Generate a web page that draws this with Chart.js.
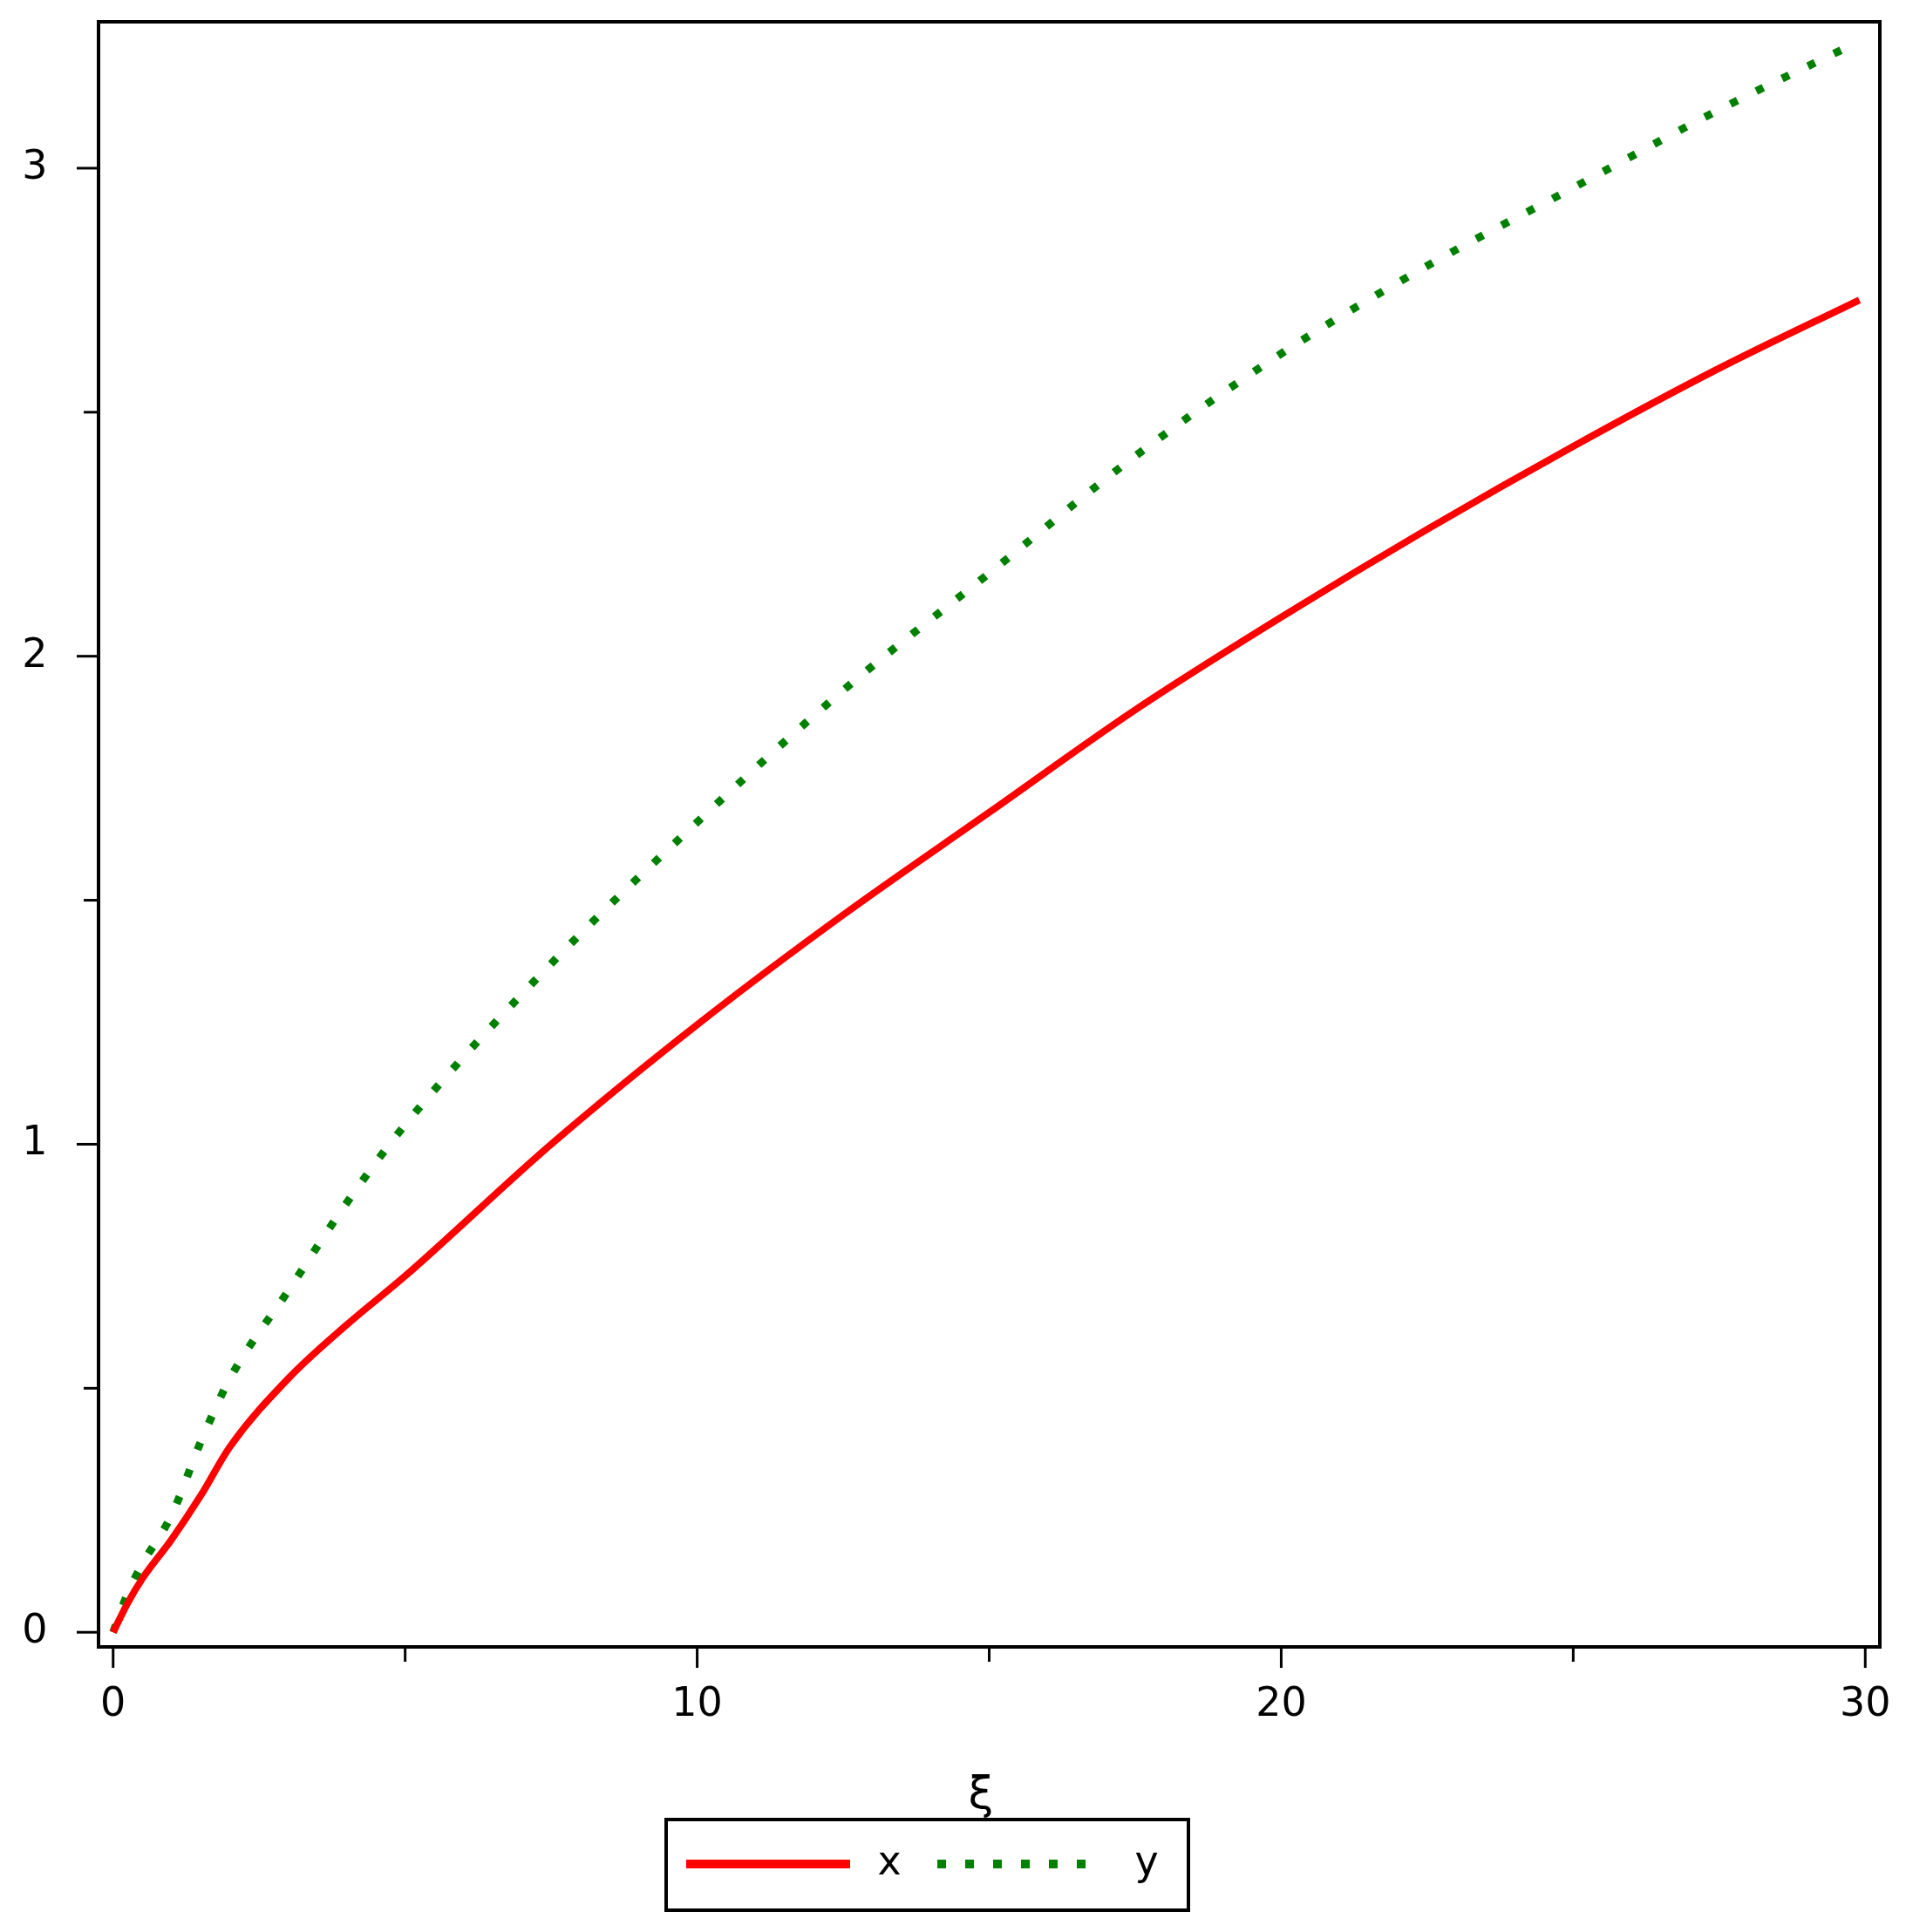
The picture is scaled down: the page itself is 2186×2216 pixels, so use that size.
<!DOCTYPE html>
<html><head><meta charset="utf-8">
<script src="https://cdn.jsdelivr.net/npm/chart.js@4/dist/chart.umd.min.js"></script>
<style>html,body{margin:0;padding:0;background:#fff}canvas{display:block}</style>
</head><body>
<canvas id="c" width="2186" height="2216"></canvas>
<script>
const xi = [0,0.25,0.5,1,1.5,2,3,4,5,7.5,10,12.5,15,17.5,20,22.5,25,27.5,29.9];
const xVals = [0,0.06,0.11,0.19,0.28,0.38,0.52,0.63,0.73,1.0,1.245,1.47,1.68,1.89,2.08,2.26,2.43,2.59,2.73];
const yVals = [0,0.08,0.14,0.24,0.39,0.52,0.70,0.88,1.04,1.37,1.66,1.93,2.17,2.41,2.62,2.80,2.96,3.12,3.26];
const xMajor = [0,10,20,30], xMinor = [5,15,25];
const yMajor = [0,1,2,3], yMinor = [0.5,1.5,2.5];
const FONT = '46px "DejaVu Sans"';

const deco = {
  id:'deco',
  afterDraw(ch){
    const c=ch.ctx, a=ch.chartArea, sx=ch.scales.x, sy=ch.scales.y;
    c.save();
    c.strokeStyle='#000'; c.lineWidth=4;
    c.strokeRect(a.left,a.top,a.right-a.left,a.bottom-a.top);
    c.lineWidth=3; c.fillStyle='#000'; c.font=FONT;
    c.textAlign='center'; c.textBaseline='top';
    xMajor.forEach(v=>{const p=sx.getPixelForValue(v);c.beginPath();c.moveTo(p,a.bottom);c.lineTo(p,a.bottom+24);c.stroke();c.fillText(String(v),p,a.bottom+44);});
    xMinor.forEach(v=>{const p=sx.getPixelForValue(v);c.beginPath();c.moveTo(p,a.bottom);c.lineTo(p,a.bottom+17);c.stroke();});
    c.textAlign='center'; c.textBaseline='middle';
    yMajor.forEach(v=>{const p=sy.getPixelForValue(v);c.beginPath();c.moveTo(a.left,p);c.lineTo(a.left-25,p);c.stroke();c.fillText(String(v),40,p);});
    yMinor.forEach(v=>{const p=sy.getPixelForValue(v);c.beginPath();c.moveTo(a.left,p);c.lineTo(a.left-17,p);c.stroke();});
    c.font='52px "DejaVu Sans"';
    c.fillText('ξ',1125,2060);
    // legend
    c.lineWidth=4; c.strokeRect(764,2087,599,104);
    const ly=2138;
    c.strokeStyle='#ff0000'; c.lineWidth=10; c.beginPath(); c.moveTo(787,ly); c.lineTo(975,ly); c.stroke();
    c.fillStyle='#000'; c.font=FONT; c.fillText('x',1020,ly);
    c.strokeStyle='#008000'; c.setLineDash([10,22]); c.beginPath(); c.moveTo(1075,ly); c.lineTo(1250,ly); c.stroke();
    c.setLineDash([]); c.fillText('y',1315,ly);
    c.restore();
  }
};

new Chart(document.getElementById('c'),{
  type:'line',
  data:{datasets:[
    {label:'x',data:xi.map((v,i)=>({x:v,y:xVals[i]})),borderColor:'#ff0000',borderWidth:8,pointRadius:0,cubicInterpolationMode:'monotone',fill:false},
    {label:'y',data:xi.map((v,i)=>({x:v,y:yVals[i]})),borderColor:'#008000',borderWidth:9,borderDash:[9,24],pointRadius:0,cubicInterpolationMode:'monotone',fill:false}
  ]},
  options:{
    responsive:false,animation:false,devicePixelRatio:1,
    layout:{padding:{left:0,top:25,right:30,bottom:0}},
    plugins:{legend:{display:false},tooltip:{enabled:false}},
    scales:{
      x:{type:'linear',min:-0.25,max:30.25,grid:{display:false},border:{display:false},ticks:{display:false},afterFit(s){s.height=327;}},
      y:{type:'linear',min:-0.03,max:3.30,grid:{display:false},border:{display:false},ticks:{display:false},afterFit(s){s.width=113;}}
    }
  },
  plugins:[deco]
});
</script>
</body></html>
